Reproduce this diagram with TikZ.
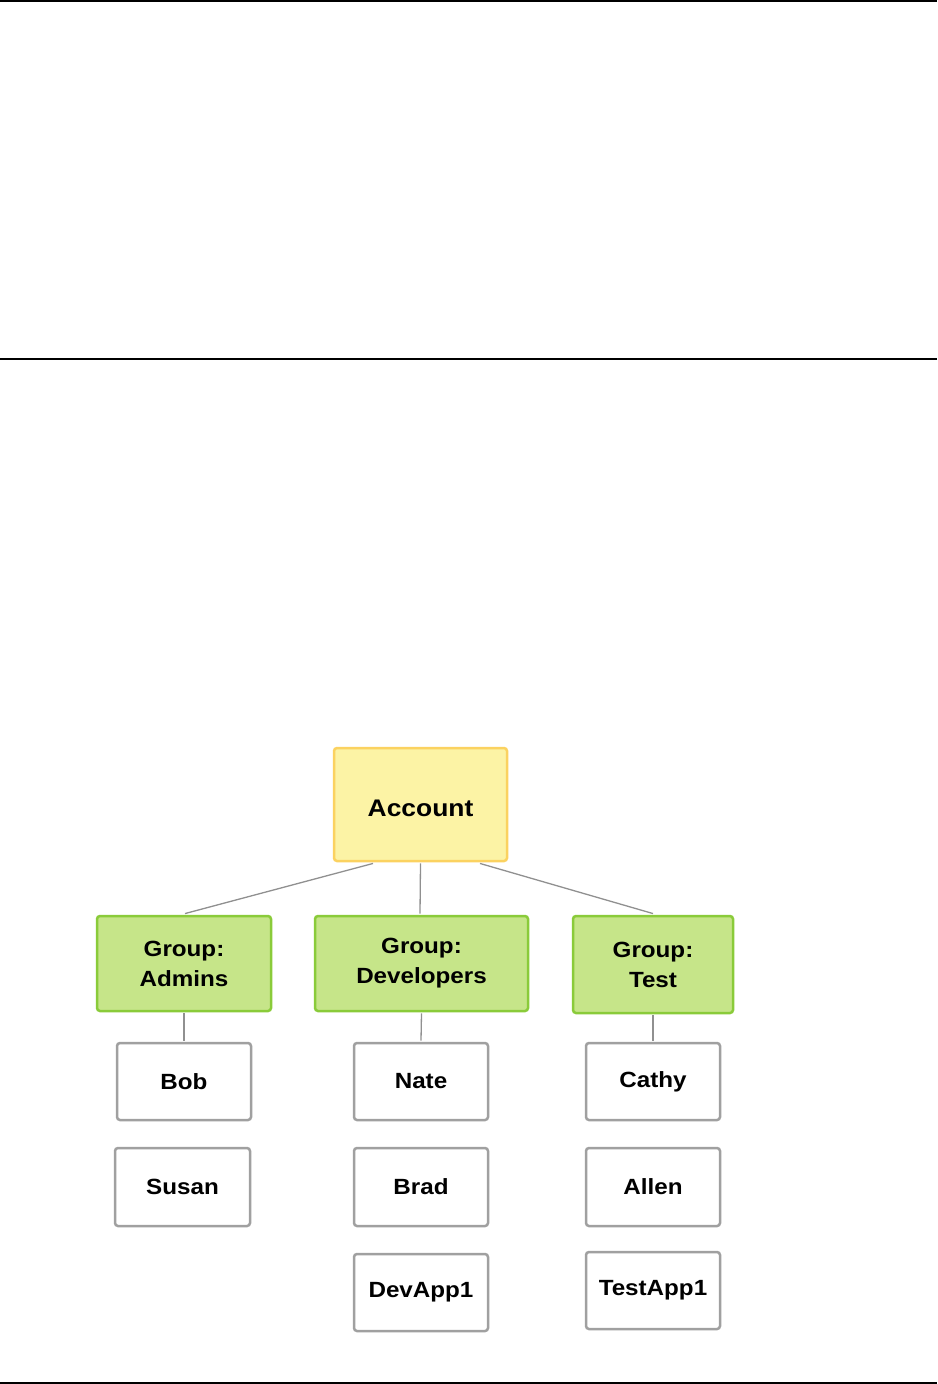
\documentclass[tikz,border=0pt]{standalone}
\usepackage{fontspec}
\setmainfont{Liberation Sans}[FakeStretch=1.1]
\definecolor{accfill}{HTML}{FCF3A5}
\definecolor{accline}{HTML}{FBD260}
\definecolor{grpfill}{HTML}{C6E589}
\definecolor{grpline}{HTML}{8ACB3A}
\definecolor{usrline}{HTML}{A0A0A0}
\definecolor{conline}{HTML}{909090}
\tikzset{
  basebox/.style={rectangle, rounded corners=3pt, line width=2.5pt, align=center,
    font=\fontsize{22}{30}\selectfont\bfseries, inner sep=0pt, text=black},
  accbox/.style={basebox, fill=accfill, draw=accline, font=\fontsize{24}{30}\selectfont\bfseries},
  grpbox/.style={basebox, fill=grpfill, draw=grpline},
  usrbox/.style={basebox, fill=white, draw=usrline},
  con/.style={draw=conline, line width=1.3pt},
  rule/.style={line width=1.5pt, black}
}
\begin{document}
\begin{tikzpicture}[x=1pt,y=-1pt]
\useasboundingbox (0,0) rectangle (937,1384);
\coordinate (t1) at (0,1); \coordinate (t2) at (937,1);
\coordinate (m1) at (0,359); \coordinate (m2) at (937,359);
\coordinate (b1) at (0,1383); \coordinate (b2) at (937,1383);
\draw[rule] (t1) -- (t2);
\draw[rule] (m1) -- (m2);
\draw[rule] (b1) -- (b2);

\node[accbox, minimum width=173pt, minimum height=113pt] (acc) at (420.5,804.5) {\raisebox{-12pt}[0pt][0pt]{Account}};

\node[grpbox, minimum width=174pt, minimum height=95pt] (adm) at (184,963.5) {Group:\\Admins};
\node[grpbox, minimum width=213pt, minimum height=95pt] (dev) at (421.5,963.5) {Group:\\Developers};
\node[grpbox, minimum width=160pt, minimum height=97pt] (tst) at (653,964.5) {Group:\\Test};

\node[usrbox, minimum width=134pt, minimum height=77pt] (bob) at (184,1081.5) {Bob};
\node[usrbox, minimum width=135pt, minimum height=78pt] (susan) at (182.5,1187) {Susan};
\node[usrbox, minimum width=134pt, minimum height=77pt] (nate) at (421,1081.5) {Nate};
\node[usrbox, minimum width=134pt, minimum height=78pt] (brad) at (421,1187) {Brad};
\node[usrbox, minimum width=134pt, minimum height=77pt] (devapp) at (421,1292.5) {DevApp1};
\node[usrbox, minimum width=134pt, minimum height=77pt] (cathy) at (653,1081.5) {Cathy};
\node[usrbox, minimum width=134pt, minimum height=78pt] (allen) at (653,1187) {Allen};
\node[usrbox, minimum width=134pt, minimum height=77pt] (testapp) at (653,1290.5) {TestApp1};

\draw[con] ([xshift=-47.5pt,yshift=-1.2pt]acc.south) -- ([xshift=1pt,yshift=1.2pt]adm.north);
\draw[con] ([yshift=-1.2pt]acc.south) -- ([xshift=-1.5pt,yshift=1.2pt]dev.north);
\draw[con] ([xshift=59.5pt,yshift=-1.2pt]acc.south) -- ([yshift=1.2pt]tst.north);
\draw[con] ([yshift=-1.2pt]adm.south) -- ([yshift=1.2pt]bob.north);
\draw[con] ([yshift=-1.2pt]dev.south) -- ([yshift=1.2pt]nate.north);
\draw[con] ([yshift=-1.2pt]tst.south) -- ([yshift=1.2pt]cathy.north);
\end{tikzpicture}
\end{document}
